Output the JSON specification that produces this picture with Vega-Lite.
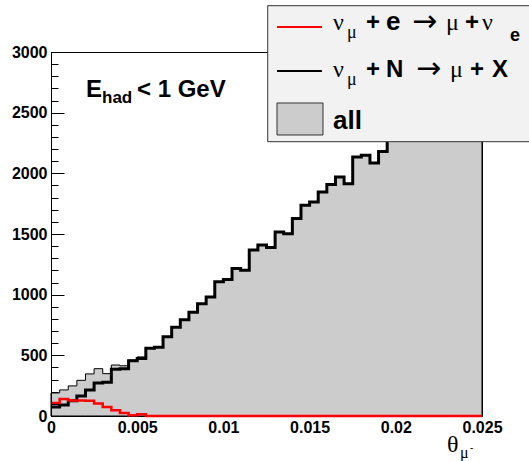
{
  "$schema": "https://vega.github.io/schema/vega-lite/v6.json",
  "width": 431,
  "height": 364,
  "autosize": {"type": "none"},
  "padding": {"left": 51, "top": 52, "right": 47, "bottom": 45},
  "background": "white",
  "config": {
    "view": {"stroke": "black", "strokeWidth": 1}
  },
  "resolve": {"scale": {"y": "shared", "x": "shared"}, "axis": {"y": "independent"}},
  "datasets": {
    "hist": [
      {"theta": 0.0000, "all": 190, "numuN": 74, "numue": 107},
      {"theta": 0.0005, "all": 215, "numuN": 90, "numue": 140},
      {"theta": 0.0010, "all": 248, "numuN": 125, "numue": 128},
      {"theta": 0.0015, "all": 294, "numuN": 165, "numue": 128},
      {"theta": 0.0020, "all": 347, "numuN": 215, "numue": 126},
      {"theta": 0.0025, "all": 390, "numuN": 272, "numue": 104},
      {"theta": 0.0030, "all": 349, "numuN": 278, "numue": 74},
      {"theta": 0.0035, "all": 420, "numuN": 385, "numue": 47},
      {"theta": 0.0040, "all": 414, "numuN": 390, "numue": 25},
      {"theta": 0.0045, "all": 461, "numuN": 455, "numue": 6},
      {"theta": 0.0050, "all": 487, "numuN": 473, "numue": 14},
      {"theta": 0.0055, "all": 558, "numuN": 558, "numue": 0},
      {"theta": 0.0060, "all": 566, "numuN": 566, "numue": 0},
      {"theta": 0.0065, "all": 654, "numuN": 654, "numue": 0},
      {"theta": 0.0070, "all": 731, "numuN": 731, "numue": 0},
      {"theta": 0.0075, "all": 793, "numuN": 793, "numue": 0},
      {"theta": 0.0080, "all": 855, "numuN": 855, "numue": 0},
      {"theta": 0.0085, "all": 926, "numuN": 926, "numue": 0},
      {"theta": 0.0090, "all": 981, "numuN": 981, "numue": 0},
      {"theta": 0.0095, "all": 1107, "numuN": 1107, "numue": 0},
      {"theta": 0.0100, "all": 1124, "numuN": 1124, "numue": 0},
      {"theta": 0.0105, "all": 1215, "numuN": 1215, "numue": 0},
      {"theta": 0.0110, "all": 1201, "numuN": 1201, "numue": 0},
      {"theta": 0.0115, "all": 1369, "numuN": 1369, "numue": 0},
      {"theta": 0.0120, "all": 1410, "numuN": 1410, "numue": 0},
      {"theta": 0.0125, "all": 1388, "numuN": 1388, "numue": 0},
      {"theta": 0.0130, "all": 1517, "numuN": 1517, "numue": 0},
      {"theta": 0.0135, "all": 1503, "numuN": 1503, "numue": 0},
      {"theta": 0.0140, "all": 1627, "numuN": 1627, "numue": 0},
      {"theta": 0.0145, "all": 1737, "numuN": 1737, "numue": 0},
      {"theta": 0.0150, "all": 1764, "numuN": 1764, "numue": 0},
      {"theta": 0.0155, "all": 1846, "numuN": 1846, "numue": 0},
      {"theta": 0.0160, "all": 1907, "numuN": 1907, "numue": 0},
      {"theta": 0.0165, "all": 1970, "numuN": 1970, "numue": 0},
      {"theta": 0.0170, "all": 1915, "numuN": 1915, "numue": 0},
      {"theta": 0.0175, "all": 2135, "numuN": 2135, "numue": 0},
      {"theta": 0.0180, "all": 2149, "numuN": 2149, "numue": 0},
      {"theta": 0.0185, "all": 2085, "numuN": 2085, "numue": 0},
      {"theta": 0.0190, "all": 2180, "numuN": 2180, "numue": 0},
      {"theta": 0.0195, "all": 2330, "numuN": 2330, "numue": 0},
      {"theta": 0.0200, "all": 2360, "numuN": 2360, "numue": 0},
      {"theta": 0.0205, "all": 2420, "numuN": 2420, "numue": 0},
      {"theta": 0.0210, "all": 2480, "numuN": 2480, "numue": 0},
      {"theta": 0.0215, "all": 2510, "numuN": 2510, "numue": 0},
      {"theta": 0.0220, "all": 2580, "numuN": 2580, "numue": 0},
      {"theta": 0.0225, "all": 2620, "numuN": 2620, "numue": 0},
      {"theta": 0.0230, "all": 2690, "numuN": 2690, "numue": 0},
      {"theta": 0.0235, "all": 2720, "numuN": 2720, "numue": 0},
      {"theta": 0.0240, "all": 2790, "numuN": 2790, "numue": 0},
      {"theta": 0.0245, "all": 2830, "numuN": 2830, "numue": 0},
      {"theta": 0.0250, "all": 2830, "numuN": 2830, "numue": 0}
    ]
  },
  "layer": [
    {
      "data": {"name": "hist"},
      "mark": {"type": "area", "interpolate": "step-after", "fill": "#cccccc", "stroke": "black", "strokeWidth": 1},
      "encoding": {
        "x": {"field": "theta", "type": "quantitative", "title": null,
          "scale": {"domain": [0, 0.025], "nice": false, "zero": false},
          "axis": {"values": [0, 0.005, 0.01, 0.015, 0.02, 0.025], "labelExpr": "format(datum.value, '~g')", "ticks": false, "labelFlush": false, "labelPadding": 3, "zindex": 0,
            "grid": false, "domainColor": "black", "labelColor": "black", "labelFont": "Liberation Sans", "labelFontWeight": "bold", "labelFontSize": 16, "labelOverlap": false}},
        "y": {"field": "all", "type": "quantitative", "title": null,
          "scale": {"domain": [0, 3000], "nice": false},
          "axis": {"orient": "left", "values": [0, 500, 1000, 1500, 2000, 2500, 3000], "format": "d",
            "tickSize": -13, "labelPadding": 17, "zindex": 1,
            "grid": false, "domainColor": "black", "tickColor": "black", "labelColor": "black", "labelFont": "Liberation Sans", "labelFontWeight": "bold", "labelFontSize": 16, "labelOverlap": false}}
      }
    },
    {
      "data": {"name": "hist"},
      "mark": {"type": "line", "interpolate": "step-after", "color": "black", "strokeWidth": 3},
      "encoding": {
        "x": {"field": "theta", "type": "quantitative", "title": null},
        "y": {"field": "numuN", "type": "quantitative", "title": null,
          "axis": {"orient": "left", "values": [100,200,300,400,600,700,800,900,1100,1200,1300,1400,1600,1700,1800,1900,2100,2200,2300,2400,2600,2700,2800,2900],
            "tickSize": -7, "labels": false, "domain": false, "grid": false, "tickColor": "black", "zindex": 1}}
      }
    },
    {
      "data": {"name": "hist"},
      "mark": {"type": "line", "interpolate": "step-after", "color": "#ff0000", "strokeWidth": 2.5},
      "encoding": {
        "x": {"field": "theta", "type": "quantitative", "title": null},
        "y": {"field": "numue", "type": "quantitative", "title": null, "axis": null}
      }
    },
    {
      "data": {"values": [{}]},
      "mark": {"type": "rect", "fill": "#f2f2f2", "stroke": "#333333", "strokeWidth": 1},
      "encoding": {
        "x": {"datum": 0.01257, "type": "quantitative", "title": null}, "x2": {"datum": 0.029},
        "y": {"datum": 3381.6, "type": "quantitative", "title": null, "axis": null}, "y2": {"datum": 2260.7}
      }
    },
    {
      "data": {"values": [{}]},
      "mark": {"type": "rule", "color": "#ff0000", "strokeWidth": 2},
      "encoding": {
        "x": {"datum": 0.013109, "type": "quantitative"}, "x2": {"datum": 0.015719},
        "y": {"datum": 3206.0, "type": "quantitative", "axis": null}
      }
    },
    {
      "data": {"values": [{}]},
      "mark": {"type": "rule", "color": "black", "strokeWidth": 2},
      "encoding": {
        "x": {"datum": 0.013109, "type": "quantitative"}, "x2": {"datum": 0.015719},
        "y": {"datum": 2843.4, "type": "quantitative", "axis": null}
      }
    },
    {
      "data": {"values": [{}]},
      "mark": {"type": "rect", "fill": "#cccccc", "stroke": "#333333", "strokeWidth": 1},
      "encoding": {
        "x": {"datum": 0.013109, "type": "quantitative"}, "x2": {"datum": 0.015777},
        "y": {"datum": 2579.7, "type": "quantitative", "axis": null}, "y2": {"datum": 2316.0}
      }
    },
    {"data": {"values": [{}]}, "mark": {"type": "text", "text": "ν", "font": "Liberation Serif", "fontSize": 24, "align": "left", "baseline": "alphabetic", "color": "black"},
      "encoding": {"x": {"datum": 0.016357, "type": "quantitative"}, "y": {"datum": 3181.3, "type": "quantitative", "axis": null}}},
    {"data": {"values": [{}]}, "mark": {"type": "text", "text": "μ", "font": "Liberation Serif", "fontSize": 18, "align": "left", "baseline": "alphabetic", "color": "black"},
      "encoding": {"x": {"datum": 0.017169, "type": "quantitative"}, "y": {"datum": 3115.4, "type": "quantitative", "axis": null}}},
    {"data": {"values": [{}]}, "mark": {"type": "text", "text": "+", "font": "Liberation Sans", "fontWeight": "bold", "fontSize": 24, "align": "left", "baseline": "alphabetic", "color": "black"},
      "encoding": {"x": {"datum": 0.018271, "type": "quantitative"}, "y": {"datum": 3181.3, "type": "quantitative", "axis": null}}},
    {"data": {"values": [{}]}, "mark": {"type": "text", "text": "e", "font": "Liberation Sans", "fontWeight": "bold", "fontSize": 26, "align": "left", "baseline": "alphabetic", "color": "black"},
      "encoding": {"x": {"datum": 0.019432, "type": "quantitative"}, "y": {"datum": 3181.3, "type": "quantitative", "axis": null}}},
    {"data": {"values": [{}]}, "mark": {"type": "text", "text": "→", "font": "DejaVu Sans", "fontSize": 30, "align": "left", "baseline": "alphabetic", "color": "black"},
      "encoding": {"x": {"datum": 0.020940, "type": "quantitative"}, "y": {"datum": 3172.0, "type": "quantitative", "axis": null}}},
    {"data": {"values": [{}]}, "mark": {"type": "text", "text": "μ", "font": "Liberation Serif", "fontSize": 24, "align": "left", "baseline": "alphabetic", "color": "black"},
      "encoding": {"x": {"datum": 0.022912, "type": "quantitative"}, "y": {"datum": 3181.3, "type": "quantitative", "axis": null}}},
    {"data": {"values": [{}]}, "mark": {"type": "text", "text": "+", "font": "Liberation Sans", "fontWeight": "bold", "fontSize": 24, "align": "left", "baseline": "alphabetic", "color": "black"},
      "encoding": {"x": {"datum": 0.024014, "type": "quantitative"}, "y": {"datum": 3181.3, "type": "quantitative", "axis": null}}},
    {"data": {"values": [{}]}, "mark": {"type": "text", "text": "ν", "font": "Liberation Serif", "fontSize": 24, "align": "left", "baseline": "alphabetic", "color": "black"},
      "encoding": {"x": {"datum": 0.025000, "type": "quantitative"}, "y": {"datum": 3181.3, "type": "quantitative", "axis": null}}},
    {"data": {"values": [{}]}, "mark": {"type": "text", "text": "e", "font": "Liberation Sans", "fontWeight": "bold", "fontSize": 18, "align": "left", "baseline": "alphabetic", "color": "black"},
      "encoding": {"x": {"datum": 0.026624, "type": "quantitative"}, "y": {"datum": 3090.7, "type": "quantitative", "axis": null}}},
    {"data": {"values": [{}]}, "mark": {"type": "text", "text": "ν", "font": "Liberation Serif", "fontSize": 24, "align": "left", "baseline": "alphabetic", "color": "black"},
      "encoding": {"x": {"datum": 0.016357, "type": "quantitative"}, "y": {"datum": 2794.0, "type": "quantitative", "axis": null}}},
    {"data": {"values": [{}]}, "mark": {"type": "text", "text": "μ", "font": "Liberation Serif", "fontSize": 18, "align": "left", "baseline": "alphabetic", "color": "black"},
      "encoding": {"x": {"datum": 0.017169, "type": "quantitative"}, "y": {"datum": 2728.0, "type": "quantitative", "axis": null}}},
    {"data": {"values": [{}]}, "mark": {"type": "text", "text": "+", "font": "Liberation Sans", "fontWeight": "bold", "fontSize": 24, "align": "left", "baseline": "alphabetic", "color": "black"},
      "encoding": {"x": {"datum": 0.018271, "type": "quantitative"}, "y": {"datum": 2794.0, "type": "quantitative", "axis": null}}},
    {"data": {"values": [{}]}, "mark": {"type": "text", "text": "N", "font": "Liberation Sans", "fontWeight": "bold", "fontSize": 24, "align": "left", "baseline": "alphabetic", "color": "black"},
      "encoding": {"x": {"datum": 0.019432, "type": "quantitative"}, "y": {"datum": 2794.0, "type": "quantitative", "axis": null}}},
    {"data": {"values": [{}]}, "mark": {"type": "text", "text": "→", "font": "DejaVu Sans", "fontSize": 30, "align": "left", "baseline": "alphabetic", "color": "black"},
      "encoding": {"x": {"datum": 0.021172, "type": "quantitative"}, "y": {"datum": 2784.7, "type": "quantitative", "axis": null}}},
    {"data": {"values": [{}]}, "mark": {"type": "text", "text": "μ", "font": "Liberation Serif", "fontSize": 24, "align": "left", "baseline": "alphabetic", "color": "black"},
      "encoding": {"x": {"datum": 0.023144, "type": "quantitative"}, "y": {"datum": 2794.0, "type": "quantitative", "axis": null}}},
    {"data": {"values": [{}]}, "mark": {"type": "text", "text": "+", "font": "Liberation Sans", "fontWeight": "bold", "fontSize": 24, "align": "left", "baseline": "alphabetic", "color": "black"},
      "encoding": {"x": {"datum": 0.024304, "type": "quantitative"}, "y": {"datum": 2794.0, "type": "quantitative", "axis": null}}},
    {"data": {"values": [{}]}, "mark": {"type": "text", "text": "X", "font": "Liberation Sans", "fontWeight": "bold", "fontSize": 24, "align": "left", "baseline": "alphabetic", "color": "black"},
      "encoding": {"x": {"datum": 0.025580, "type": "quantitative"}, "y": {"datum": 2794.0, "type": "quantitative", "axis": null}}},
    {"data": {"values": [{}]}, "mark": {"type": "text", "text": "all", "font": "Liberation Sans", "fontWeight": "bold", "fontSize": 26, "align": "left", "baseline": "alphabetic", "color": "black"},
      "encoding": {"x": {"datum": 0.016357, "type": "quantitative"}, "y": {"datum": 2365.4, "type": "quantitative", "axis": null}}},
    {"data": {"values": [{}]}, "mark": {"type": "text", "text": "E", "font": "Liberation Sans", "fontWeight": "bold", "fontSize": 24, "align": "left", "baseline": "alphabetic", "color": "black"},
      "encoding": {"x": {"datum": 0.00203, "type": "quantitative"}, "y": {"datum": 2629.1, "type": "quantitative", "axis": null}}},
    {"data": {"values": [{}]}, "mark": {"type": "text", "text": "had", "font": "Liberation Sans", "fontWeight": "bold", "fontSize": 17, "align": "left", "baseline": "alphabetic", "color": "black"},
      "encoding": {"x": {"datum": 0.002958, "type": "quantitative"}, "y": {"datum": 2579.7, "type": "quantitative", "axis": null}}},
    {"data": {"values": [{}]}, "mark": {"type": "text", "text": "< 1 GeV", "font": "Liberation Sans", "fontWeight": "bold", "fontSize": 24, "align": "left", "baseline": "alphabetic", "color": "black"},
      "encoding": {"x": {"datum": 0.004988, "type": "quantitative"}, "y": {"datum": 2629.1, "type": "quantitative", "axis": null}}},
    {"data": {"values": [{}]}, "mark": {"type": "text", "text": "θ", "font": "Liberation Serif", "fontSize": 24, "align": "left", "baseline": "alphabetic", "color": "black"},
      "encoding": {"x": {"datum": 0.02297, "type": "quantitative"}, "y": {"datum": -296.7, "type": "quantitative", "axis": null}}},
    {"data": {"values": [{}]}, "mark": {"type": "text", "text": "μ", "font": "Liberation Serif", "fontSize": 16, "align": "left", "baseline": "alphabetic", "color": "black"},
      "encoding": {"x": {"datum": 0.023724, "type": "quantitative"}, "y": {"datum": -346.2, "type": "quantitative", "axis": null}}},
    {"data": {"values": [{}]}, "mark": {"type": "text", "text": "-", "font": "Liberation Sans", "fontSize": 10, "align": "left", "baseline": "alphabetic", "color": "black"},
      "encoding": {"x": {"datum": 0.024304, "type": "quantitative"}, "y": {"datum": -288.5, "type": "quantitative", "axis": null}}}
  ]
}
